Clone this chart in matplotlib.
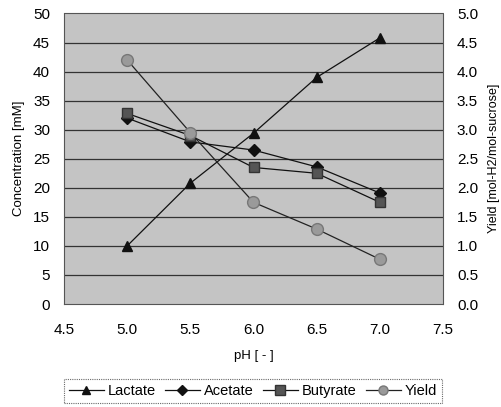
import matplotlib
matplotlib.use("Agg")
import matplotlib.pyplot as plt
from matplotlib.lines import Line2D

plt.rcParams['font.family'] = ['Liberation Sans', 'DejaVu Sans']

ph = [5.0, 5.5, 6.0, 6.5, 7.0]
lactate = [10.0, 20.8, 29.4, 39.0, 45.8]
acetate = [32.0, 27.9, 26.5, 23.6, 19.1]
butyrate = [32.8, 29.0, 23.5, 22.5, 17.5]
yield_ = [4.2, 2.95, 1.75, 1.29, 0.77]

fig = plt.figure(figsize=(5.01, 4.07), dpi=100)
ax = fig.add_axes([64/501, 1-304/407, (443-64)/501, (304-13.5)/407])
ax.set_facecolor('#c4c4c4')
ax.set_xlim(4.5, 7.5)
ax.set_ylim(0, 50)
ax.set_xticks([4.5, 5.0, 5.5, 6.0, 6.5, 7.0, 7.5])
ax.set_xticklabels(['4.5', '5.0', '5.5', '6.0', '6.5', '7.0', '7.5'])
ax.set_yticks(range(0, 51, 5))
for y in range(5, 50, 5):
    ax.axhline(y, color='#333333', lw=0.9, zorder=1)
for s in ax.spines.values():
    s.set_color('#555555')
    s.set_linestyle((0, (1, 1)))
    s.set_linewidth(0.8)
ax.tick_params(axis='y', length=0, labelsize=11, pad=10)
ax.tick_params(axis='x', length=0, labelsize=11, pad=14)

ax2 = ax.twinx()
ax2.set_ylim(0, 5)
ax2.set_yticks([i * 0.5 for i in range(11)])
ax2.set_yticklabels([f'{i*0.5:.1f}' for i in range(11)])
ax2.tick_params(length=0, labelsize=11, pad=10)
for s in ax2.spines.values():
    s.set_visible(False)

kw = dict(color='#111111', lw=0.9, zorder=3)
ax.plot(ph, lactate, marker='^', ms=7, mfc='#111111', mec='#111111', **kw)
ax.plot(ph, acetate, marker='D', ms=6, mfc='#111111', mec='#111111', **kw)
ax.plot(ph, butyrate, marker='s', ms=7.5, mfc='#555555', mec='#333333', **kw)
ax2.plot(ph, yield_, marker='o', ms=8.5, mfc='#9a9a9a', mec='#777777', color='#222222', lw=0.9, zorder=3)

ax.set_ylabel('Concentration [mM]', fontsize=9.5, labelpad=6)
ax2.set_ylabel('Yield [mol-H2/mol-sucrose]', fontsize=9, labelpad=7)
ax.set_xlabel('pH [ - ]', fontsize=9.5, labelpad=9)

handles = [
    Line2D([], [], color='#111111', lw=0.9, marker='^', ms=6, mfc='#111111', mec='#111111'),
    Line2D([], [], color='#111111', lw=0.9, marker='D', ms=5, mfc='#111111', mec='#111111'),
    Line2D([], [], color='#111111', lw=0.9, marker='s', ms=6.5, mfc='#555555', mec='#333333'),
    Line2D([], [], color='#222222', lw=0.9, marker='o', ms=6.5, mfc='#9a9a9a', mec='#777777'),
]
leg = fig.legend(handles, ['Lactate', 'Acetate', 'Butyrate', 'Yield'],
                 loc='center', bbox_to_anchor=((62+444)/2/501, 1-391/407),
                 ncol=4, frameon=True, fontsize=10.5, handlelength=2.4,
                 handletextpad=0.3, columnspacing=0.6, borderpad=0.35,
                 fancybox=False)
leg.get_frame().set_edgecolor('#444444')
leg.get_frame().set_linestyle((0, (1, 1)))
leg.get_frame().set_linewidth(0.8)

fig.savefig('out.png', dpi=100)
